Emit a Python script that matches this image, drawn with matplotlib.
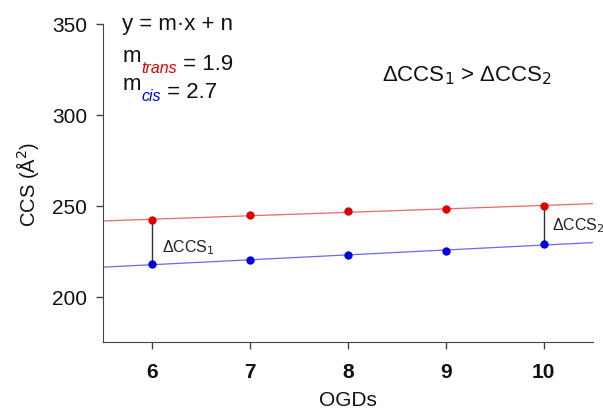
import numpy as np
import matplotlib
matplotlib.use("Agg")
import matplotlib.pyplot as plt

plt.rcParams['font.family'] = ['Liberation Sans', 'DejaVu Sans']

ogds = [6, 7, 8, 9, 10]
ccs_trans = [242, 245, 247, 248, 250]
ccs_cis = [218, 220, 223, 225, 229]
slope_trans = 1.9
slope_cis = 2.7

fig = plt.figure(figsize=(6.03, 4.14), dpi=100)
ax = fig.add_axes([0.171, 0.171, 0.812, 0.769])

# fitted lines across the full x range
xfit = np.array([5.5, 10.5])
pt = np.polyfit(ogds, ccs_trans, 1)
pc = np.polyfit(ogds, ccs_cis, 1)
ax.plot(xfit, np.polyval(pt, xfit), color='#e86a6a', lw=0.9, zorder=2)
ax.plot(xfit, np.polyval(pc, xfit), color='#6a6ae8', lw=0.9, zorder=2)

# difference bars at first and last point
for i in (0, -1):
    ax.plot([ogds[i], ogds[i]], [ccs_cis[i], ccs_trans[i]], color='#333333', lw=1.0, zorder=2)

ax.plot(ogds, ccs_trans, 'o', color='#dd0000', ms=5, zorder=3)
ax.plot(ogds, ccs_cis, 'o', color='#0000dd', ms=5, zorder=3)

ax.text(ogds[0] + 0.1, 227.5, 'ΔCCS$_1$', fontsize=11.5, va='center', ha='left', color='#222222')
ax.text(ogds[-1] + 0.08, 239.5, 'ΔCCS$_2$', fontsize=11.5, va='center', ha='left', color='#222222')

ax.text(0.743, 0.84, 'ΔCCS$_1$ > ΔCCS$_2$', transform=ax.transAxes,
        fontsize=16, ha='center', va='center', color='#111111')

# equation block
ax.text(0.039, 1.0, 'y = m·x + n', transform=ax.transAxes, fontsize=16,
        ha='left', va='center', color='#111111')
m1 = ax.text(0.039, 0.882, 'm', transform=ax.transAxes, fontsize=16,
             ha='left', va='baseline', color='#111111')
s1 = ax.annotate('trans', xy=(1, 0), xycoords=m1, xytext=(0.5, -4), textcoords='offset points',
                 fontsize=11.5, style='italic', color='#e00000', ha='left', va='baseline')
ax.annotate(' = %.1f' % slope_trans, xy=(1, 0), xycoords=s1, xytext=(0, 4), textcoords='offset points',
            fontsize=16, color='#111111', ha='left', va='baseline')
m2 = ax.text(0.039, 0.795, 'm', transform=ax.transAxes, fontsize=16,
             ha='left', va='baseline', color='#111111')
s2 = ax.annotate('cis', xy=(1, 0), xycoords=m2, xytext=(0.5, -4), textcoords='offset points',
                 fontsize=11.5, style='italic', color='#0000e0', ha='left', va='baseline')
ax.annotate(' = %.1f' % slope_cis, xy=(1, 0), xycoords=s2, xytext=(0, 4), textcoords='offset points',
            fontsize=16, color='#111111', ha='left', va='baseline')

ax.set_xlim(5.5, 10.5)
ax.set_ylim(175, 350)
ax.set_xticks(ogds)
ax.set_yticks([200, 250, 300, 350])
for lab in ax.get_xticklabels():
    lab.set_fontweight('bold')
ax.tick_params(axis='both', labelsize=15, color='#444444', length=5, width=1, labelcolor='#111111')
ax.tick_params(axis='x', pad=9)
ax.tick_params(axis='y', pad=6.5)
for s in ('top', 'right'):
    ax.spines[s].set_visible(False)
for s in ('left', 'bottom'):
    ax.spines[s].set_color('#444444')
ax.set_xlabel('OGDs', fontsize=15, labelpad=7, color='#111111')
ax.set_ylabel('CCS (Å$^2$)', fontsize=14.5, labelpad=8, color='#111111')

fig.savefig('out.png', dpi=100)
